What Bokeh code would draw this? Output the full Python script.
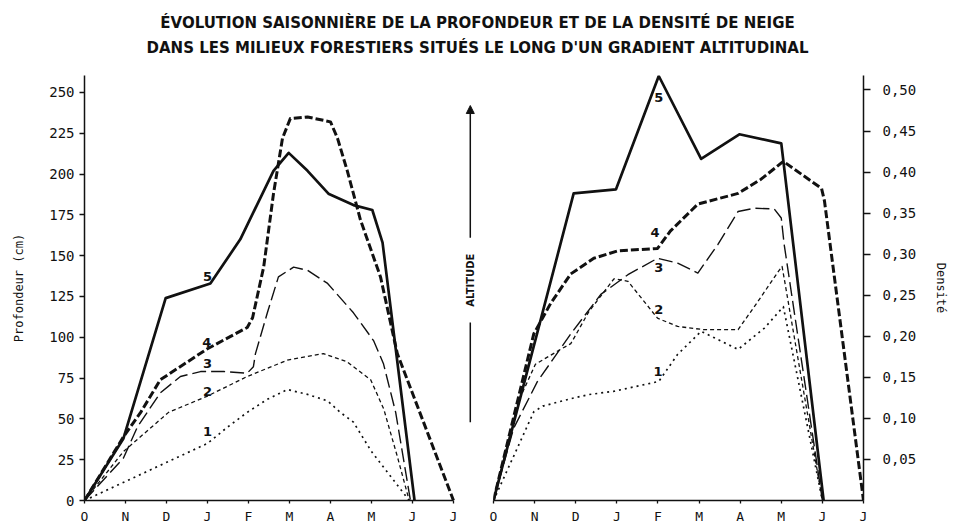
import math
from bokeh.plotting import figure
from bokeh.layouts import column, row
from bokeh.models import (Range1d, FixedTicker, Label, Arrow, NormalHead)
from bokeh.embed import file_html
from bokeh.resources import INLINE

# ---------------- data ----------------
months = ["O", "N", "D", "J", "F", "M", "A", "M", "J", "J"]
depth_ticks = [0, 25, 50, 75, 100, 125, 150, 175, 200, 225, 250]
dens_ticks = [0.05, 0.10, 0.15, 0.20, 0.25, 0.30, 0.35, 0.40, 0.45, 0.50]
dens_tick_labels = ["0,05", "0,10", "0,15", "0,20", "0,25", "0,30", "0,35", "0,40", "0,45", "0,50"]

# Profondeur (cm) — x in months since 1 October
p5_x = [0, 0.95, 1.98, 3.07, 3.8, 4.61, 4.98, 5.44, 5.95, 6.56, 7.02, 7.27, 8.05]
p5_y = [0, 38, 124, 133, 160, 202, 213, 202, 188, 181, 178, 158, 0]
p4_x = [0, 0.95, 1.37, 1.85, 3.0, 3.97, 4.1, 4.37, 4.61, 4.83, 5.02, 5.44, 6.0, 6.17, 6.41, 6.73, 7.22, 7.63, 9.0]
p4_y = [0, 39, 54, 74, 93, 106, 112, 143, 188, 222, 234, 235, 232, 222, 202, 172, 137, 90, 0]
p3_x = [0, 0.95, 1.29, 1.85, 2.34, 2.83, 3.4, 3.97, 4.12, 4.17, 4.46, 4.73, 5.1, 5.44, 5.93, 6.56, 7.05, 7.29, 7.59, 7.95]
p3_y = [0, 26, 45, 66, 76, 79, 79, 78, 82, 90, 115, 137, 143, 141, 133, 115, 98, 84, 54, 0]
p2_x = [0, 0.95, 2.05, 3.0, 3.97, 4.95, 5.83, 6.4, 6.98, 7.3, 7.63, 7.92]
p2_y = [0, 30, 54, 64, 76, 86, 90, 85, 74, 56, 27, 0]
p1_x = [0, 3.0, 3.49, 3.97, 4.46, 4.95, 5.44, 5.93, 6.24, 6.56, 7.0, 7.92]
p1_y = [0, 35, 45, 54, 62, 68, 65, 61, 54, 48, 30, 0]

# Densité
d5_x = [0, 1.95, 2.98, 4.02, 5.05, 5.98, 7.0, 8.03]
d5_y = [0, 0.374, 0.379, 0.517, 0.416, 0.446, 0.435, 0]
d4_x = [0, 0.98, 1.39, 1.88, 2.44, 3.02, 3.99, 4.3, 4.97, 5.95, 6.5, 7.05, 7.98, 8.05, 9.0]
d4_y = [0, 0.203, 0.240, 0.276, 0.295, 0.304, 0.307, 0.328, 0.361, 0.374, 0.391, 0.413, 0.380, 0.365, 0]
d3_x = [0, 0.49, 1.07, 1.88, 2.61, 3.27, 3.99, 4.48, 4.97, 5.46, 5.95, 6.35, 6.83, 7.0, 7.07, 8.0]
d3_y = [0, 0.088, 0.145, 0.203, 0.251, 0.275, 0.295, 0.289, 0.277, 0.312, 0.352, 0.356, 0.355, 0.344, 0.312, 0]
d2_x = [0, 0.6, 1.02, 1.63, 1.88, 2.32, 2.93, 3.27, 3.99, 4.48, 5.12, 5.95, 6.44, 6.93, 7.02, 7.1, 8.0]
d2_y = [0, 0.12, 0.166, 0.184, 0.191, 0.23, 0.27, 0.267, 0.222, 0.212, 0.208, 0.208, 0.243, 0.279, 0.285, 0.262, 0]
d1_x = [0, 0.98, 1.2, 1.88, 2.32, 2.93, 4.02, 4.48, 5.05, 5.95, 6.59, 7.05, 8.0]
d1_y = [0, 0.108, 0.115, 0.124, 0.129, 0.133, 0.145, 0.178, 0.206, 0.184, 0.21, 0.236, 0]

curve_names = ["1", "2", "3", "4", "5"]
# label anchor positions (month, value)
p_lab_x = [3.0, 3.0, 3.0, 2.98, 3.0]
p_lab_y = [42, 67, 84, 97, 137]
d_lab_x = [4.0, 4.02, 4.02, 3.93, 4.02]
d_lab_y = [0.157, 0.233, 0.284, 0.326, 0.491]

title1 = "ÉVOLUTION SAISONNIÈRE DE LA PROFONDEUR ET DE LA DENSITÉ DE NEIGE"
title2 = "DANS LES MILIEUX FORESTIERS SITUÉS LE LONG D'UN GRADIENT ALTITUDINAL"

# ---------------- styles ----------------
INK = "#111111"
styles = {
    "1": dict(line_width=1.7, line_dash="2 4"),
    "2": dict(line_width=1.3, line_dash="4 3"),
    "3": dict(line_width=1.4, line_dash="14 5"),
    "4": dict(line_width=3.0, line_dash="8 3"),
    "5": dict(line_width=2.7, line_dash="solid"),
}
MONO = "DejaVu Sans Mono"

def style_axis(ax, size="14px"):
    ax.axis_line_color = INK
    ax.axis_line_width = 1.5
    ax.major_tick_line_color = INK
    ax.major_tick_line_width = 1.3
    ax.minor_tick_line_color = None
    ax.major_label_text_font = MONO
    ax.major_label_text_font_size = size
    ax.major_label_text_color = INK
    ax.axis_label_text_font = MONO
    ax.axis_label_text_font_style = "normal"
    ax.axis_label_text_color = INK

# ---------------- title ----------------
tp = figure(width=957, height=66, x_range=Range1d(0, 957), y_range=Range1d(66, 0),
            x_axis_location=None, y_axis_location=None, toolbar_location=None,
            output_backend="svg", min_border=0, outline_line_color=None)
tp.grid.visible = False
for txt, yy in [(title1, 22), (title2, 47)]:
    tp.add_layout(Label(x=477, y=yy, text=txt, text_align="center", text_baseline="middle",
                        text_font="DejaVu Sans", text_font_size="15px",
                        text_font_style="bold", text_color=INK))

# ---------------- left panel ----------------
lp = figure(width=480, height=460, x_range=Range1d(0, 9.659), y_range=Range1d(0, 260.4),
            toolbar_location=None, output_backend="svg",
            min_border_left=84, min_border_right=0, min_border_top=9, min_border_bottom=25,
            outline_line_color=None)
lp.grid.visible = False
lp.xaxis.ticker = FixedTicker(ticks=list(range(len(months))))
lp.xaxis.major_label_overrides = {i: m for i, m in enumerate(months)}
lp.xaxis.bounds = (0, 9)
lp.yaxis.ticker = FixedTicker(ticks=depth_ticks)
lp.yaxis.axis_label = "Profondeur (cm)"
for ax in lp.xaxis:
    style_axis(ax, "13px")
    ax.major_tick_out = 3
    ax.major_tick_in = 0
    ax.major_label_standoff = 5
for ax in lp.yaxis:
    style_axis(ax, "14px")
    ax.major_tick_out = 5
    ax.major_tick_in = 0
    ax.major_label_standoff = 5
    ax.axis_label_text_font_size = "12px"
    ax.axis_label_standoff = 20

for name, xs, ys in [("1", p1_x, p1_y), ("2", p2_x, p2_y), ("3", p3_x, p3_y),
                     ("4", p4_x, p4_y), ("5", p5_x, p5_y)]:
    lp.line(xs, ys, line_color=INK, line_join="round", **styles[name])
for name, lx, ly in zip(curve_names, p_lab_x, p_lab_y):
    lp.add_layout(Label(x=lx, y=ly, text=name, text_align="center", text_baseline="middle",
                        text_font="DejaVu Sans", text_font_style="bold",
                        text_font_size="13px", text_color=INK))

# altitude arrow
ax_x = 9.41
lp.add_layout(Arrow(end=NormalHead(size=8, fill_color=INK, line_color=INK),
                    x_start=ax_x, y_start=161, x_end=ax_x, y_end=242,
                    line_width=1.5, line_color=INK))
lp.add_layout(Arrow(end=None, x_start=ax_x, y_start=48, x_end=ax_x, y_end=109,
                    line_width=1.5, line_color=INK))
lp.add_layout(Label(x=ax_x, y=135, text="ALTITUDE", angle=math.pi / 2, angle_units="rad",
                    text_align="center", text_baseline="middle",
                    text_font="DejaVu Sans", text_font_style="bold",
                    text_font_size="10px", text_color=INK))

# ---------------- right panel ----------------
rp = figure(width=477, height=460, x_range=Range1d(0, 9), y_range=Range1d(0, 0.5176),
            y_axis_location="right", toolbar_location=None, output_backend="svg",
            min_border_left=13, min_border_right=94, min_border_top=9, min_border_bottom=25,
            outline_line_color=None)
rp.grid.visible = False
rp.xaxis.ticker = FixedTicker(ticks=list(range(len(months))))
rp.xaxis.major_label_overrides = {i: m for i, m in enumerate(months)}
rp.yaxis.ticker = FixedTicker(ticks=dens_ticks)
rp.yaxis.major_label_overrides = {t: s for t, s in zip(dens_ticks, dens_tick_labels)}
rp.yaxis.axis_label = "Densité"
for ax in rp.xaxis:
    style_axis(ax, "13px")
    ax.major_tick_out = 3
    ax.major_tick_in = 0
    ax.major_label_standoff = 5
for ax in rp.yaxis:
    style_axis(ax, "14px")
    ax.major_tick_out = 7
    ax.major_tick_in = 0
    ax.major_label_standoff = 12
    ax.axis_label_text_font_size = "12px"
    ax.axis_label_standoff = 15

for name, xs, ys in [("1", d1_x, d1_y), ("2", d2_x, d2_y), ("3", d3_x, d3_y),
                     ("4", d4_x, d4_y), ("5", d5_x, d5_y)]:
    rp.line(xs, ys, line_color=INK, line_join="round", **styles[name])
for name, lx, ly in zip(curve_names, d_lab_x, d_lab_y):
    rp.add_layout(Label(x=lx, y=ly, text=name, text_align="center", text_baseline="middle",
                        text_font="DejaVu Sans", text_font_style="bold",
                        text_font_size="13px", text_color=INK))

layout = column(tp, row(lp, rp, spacing=0), spacing=0)
open("out.html", "w").write(file_html(layout, INLINE))
